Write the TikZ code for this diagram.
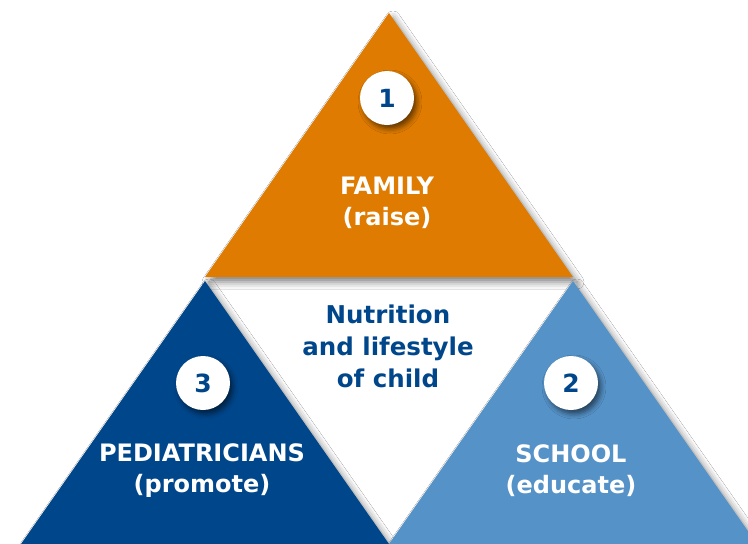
\documentclass[tikz,border=0pt]{standalone}
\usepackage{fontspec}
\setmainfont{DejaVu Sans}
\usetikzlibrary{shadows.blur}
\definecolor{famorange}{HTML}{DE7B00}
\definecolor{pedblue}{HTML}{00468B}
\definecolor{schblue}{HTML}{5592C8}
\definecolor{txtblue}{HTML}{00468B}
\tikzset{
  tri/.style={blur shadow={shadow xshift=4pt,shadow yshift=-5pt,shadow blur radius=7pt,shadow opacity=50}},
  numcirc/.style={circle,fill=white,minimum size=54pt,inner sep=0pt,text=txtblue,font=\fontsize{25}{25}\selectfont\bfseries,
    blur shadow={shadow xshift=3pt,shadow yshift=-4pt,shadow blur radius=5pt,shadow opacity=55}},
  lbl/.style={align=center,text=white,font=\fontsize{24}{31}\selectfont\bfseries},
  ctr/.style={align=center,text=txtblue,font=\fontsize{24.5}{32}\selectfont\bfseries}
}
\begin{document}
\begin{tikzpicture}[x=1pt,y=-1pt]
\useasboundingbox (0,0) rectangle (748,544);
\fill[white] (0,0) rectangle (748,544);
% triangles
\fill[famorange,tri] (389,13) -- (573,277) -- (205,277) -- cycle;
\fill[pedblue,tri] (205,281) -- (389,544) -- (21,544) -- cycle;
\fill[schblue,tri] (573,281) -- (757,544) -- (389,544) -- cycle;
% number circles
\node[numcirc] (n1) at (387,98) {1};
\node[numcirc] (n3) at (203,383) {3};
\node[numcirc] (n2) at (571,383) {2};
% labels
\node[lbl] (fam) at (387,203) {FAMILY\\(raise)};
\node[lbl] (ped) at (202,471) {PEDIATRICIANS\\(promote)};
\node[lbl] (sch) at (571,471) {SCHOOL\\(educate)};
\node[ctr] (nut) at (388,346) {Nutrition\\and lifestyle\\of child};
\end{tikzpicture}
\end{document}
